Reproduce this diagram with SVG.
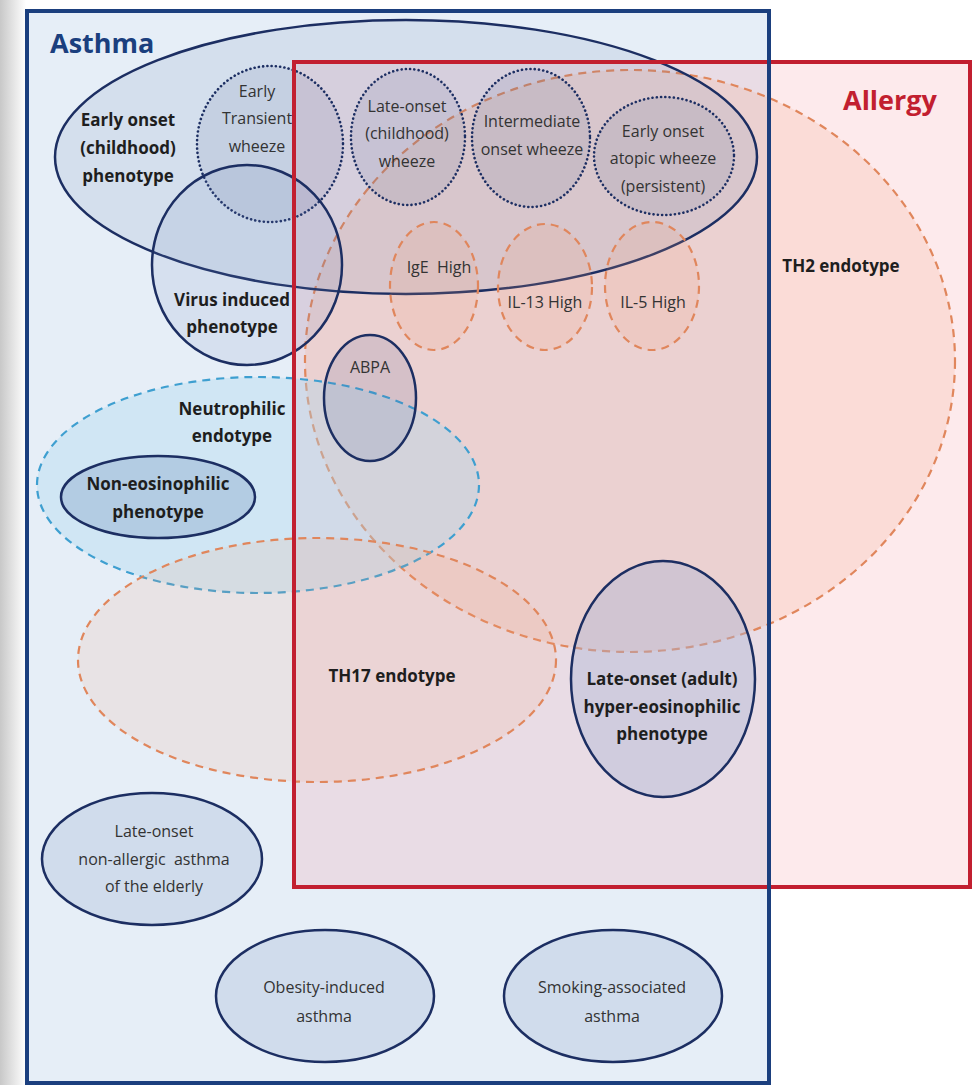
<svg xmlns="http://www.w3.org/2000/svg" width="974" height="1085" viewBox="0 0 974 1085">
<defs>
<linearGradient id="shadow" x1="0" y1="0" x2="1" y2="0">
<stop offset="0" stop-color="#c8c8c8"/>
<stop offset="1" stop-color="#ffffff"/>
</linearGradient>
<style>
text{font-family:"Open Sans","Liberation Sans",sans-serif;text-anchor:middle;fill:#2a2a2a}
.b{font-weight:bold;font-size:17px;fill:#1e1e1e}
.r{font-size:16px;fill:#333}
.title{font-weight:bold;font-size:27px;text-anchor:start}
.solid{stroke:#1c2e62;stroke-width:2.5}
.dot{stroke:#1c2e62;stroke-width:2.6;stroke-dasharray:0.1 4.2;stroke-linecap:round}
.dash{stroke:#e0865c;stroke-width:2.2;stroke-dasharray:8 6}
.bdash{stroke:#3e9fd0;stroke-width:2.2;stroke-dasharray:8 6}
</style>
</defs>
<rect x="0" y="0" width="974" height="1085" fill="#ffffff"/>
<rect x="0" y="0" width="26" height="1085" fill="url(#shadow)"/>
<!-- Asthma box -->
<g id="asthma">
<rect x="27" y="11" width="742" height="1072" fill="#e6eef7"/>
</g>
<!-- Allergy box fill -->
<g id="allergy">
<rect x="294" y="62" width="676" height="825" fill="#f4a0a8" fill-opacity="0.22"/>
</g>
<g id="th2">
<ellipse cx="630" cy="361" rx="325" ry="291" fill="#f5a078" fill-opacity="0.18" class="dash"/>
<text class="b" x="841" y="272">TH2 endotype</text>
</g>
<g id="early-onset">
<ellipse cx="406" cy="157" rx="351" ry="137" fill="#5a78a8" fill-opacity="0.13" class="solid"/>
<text class="b" x="128" y="126">Early onset</text>
<text class="b" x="128" y="154">(childhood)</text>
<text class="b" x="128" y="182">phenotype</text>
</g>
<g id="early-transient">
<ellipse cx="270" cy="144" rx="73" ry="78" fill="#5a6898" fill-opacity="0.12" class="dot"/>
<text class="r" x="257" y="97">Early</text>
<text class="r" x="257" y="124">Transient</text>
<text class="r" x="257" y="152">wheeze</text>
</g>
<g id="late-onset-childhood">
<ellipse cx="408" cy="137" rx="57" ry="68" fill="#5a6898" fill-opacity="0.12" class="dot"/>
<text class="r" x="407" y="112">Late-onset</text>
<text class="r" x="407" y="139">(childhood)</text>
<text class="r" x="407" y="167">wheeze</text>
</g>
<g id="intermediate">
<ellipse cx="531" cy="138" rx="59" ry="69" fill="#5a6898" fill-opacity="0.12" class="dot"/>
<text class="r" x="532" y="127">Intermediate</text>
<text class="r" x="532" y="155">onset wheeze</text>
</g>
<g id="early-atopic">
<ellipse cx="664" cy="156" rx="70" ry="59" fill="#5a6898" fill-opacity="0.12" class="dot"/>
<text class="r" x="663" y="137">Early onset</text>
<text class="r" x="663" y="164">atopic wheeze</text>
<text class="r" x="663" y="192">(persistent)</text>
</g>
<g id="ige">
<ellipse cx="434" cy="286" rx="44" ry="64" fill="#f5a078" fill-opacity="0.15" class="dash"/>
<text class="r" x="439" y="273" xml:space="preserve">IgE  High</text>
</g>
<g id="il13">
<ellipse cx="545" cy="287" rx="47" ry="63" fill="#f5a078" fill-opacity="0.15" class="dash"/>
<text class="r" x="545" y="308">IL-13 High</text>
</g>
<g id="il5">
<ellipse cx="652" cy="286" rx="47" ry="64" fill="#f5a078" fill-opacity="0.15" class="dash"/>
<text class="r" x="653" y="308">IL-5 High</text>
</g>
<g id="virus">
<ellipse cx="247" cy="265" rx="95" ry="100" fill="#6a84b8" fill-opacity="0.13" class="solid"/>
<text class="b" x="232" y="306">Virus induced</text>
<text class="b" x="232" y="333">phenotype</text>
</g>
<g id="neutrophilic">
<ellipse cx="258" cy="485" rx="221" ry="108" fill="#a6d6ef" fill-opacity="0.35" class="bdash"/>
<text class="b" x="232" y="415">Neutrophilic</text>
<text class="b" x="232" y="442">endotype</text>
</g>
<g id="abpa">
<ellipse cx="370" cy="398" rx="46" ry="63" fill="#5a6898" fill-opacity="0.15" class="solid"/>
<text class="r" x="370" y="373">ABPA</text>
</g>
<g id="non-eosinophilic">
<ellipse cx="158" cy="497" rx="97" ry="41" fill="#9ab6d6" fill-opacity="0.55" class="solid"/>
<text class="b" x="158" y="490">Non-eosinophilic</text>
<text class="b" x="158" y="518">phenotype</text>
</g>
<g id="th17">
<ellipse cx="317" cy="660" rx="239" ry="122" fill="#f5a078" fill-opacity="0.14" class="dash"/>
<text class="b" x="392" y="682">TH17 endotype</text>
</g>
<g id="late-adult">
<ellipse cx="663" cy="679" rx="92" ry="118" fill="#aab4d4" fill-opacity="0.4" class="solid"/>
<text class="b" x="662" y="685">Late-onset (adult)</text>
<text class="b" x="662" y="713">hyper-eosinophilic</text>
<text class="b" x="662" y="740">phenotype</text>
</g>
<g id="elderly">
<ellipse cx="152" cy="859" rx="110" ry="66" fill="#d0dcec" class="solid"/>
<text class="r" x="154" y="837">Late-onset</text>
<text class="r" x="154" y="865" xml:space="preserve">non-allergic  asthma</text>
<text class="r" x="154" y="892">of the elderly</text>
</g>
<g id="obesity">
<ellipse cx="325" cy="996" rx="109" ry="66" fill="#d0dcec" class="solid"/>
<text class="r" x="324" y="993">Obesity-induced</text>
<text class="r" x="324" y="1022">asthma</text>
</g>
<g id="smoking">
<ellipse cx="613" cy="996" rx="109" ry="66" fill="#d0dcec" class="solid"/>
<text class="r" x="612" y="993">Smoking-associated</text>
<text class="r" x="612" y="1022">asthma</text>
</g>
<g id="connectors"></g>
<!-- frame strokes on top -->
<g id="frames">
<rect x="294" y="62" width="676" height="825" fill="none" stroke="#c21f30" stroke-width="4"/>
<rect x="27" y="11" width="742" height="1072" fill="none" stroke="#1b3f7e" stroke-width="4"/>
<text class="title" x="50" y="53" fill="#1b3f7e" style="fill:#1b3f7e">Asthma</text>
<text class="title" x="843" y="110" style="fill:#c21f30">Allergy</text>
</g>
</svg>
